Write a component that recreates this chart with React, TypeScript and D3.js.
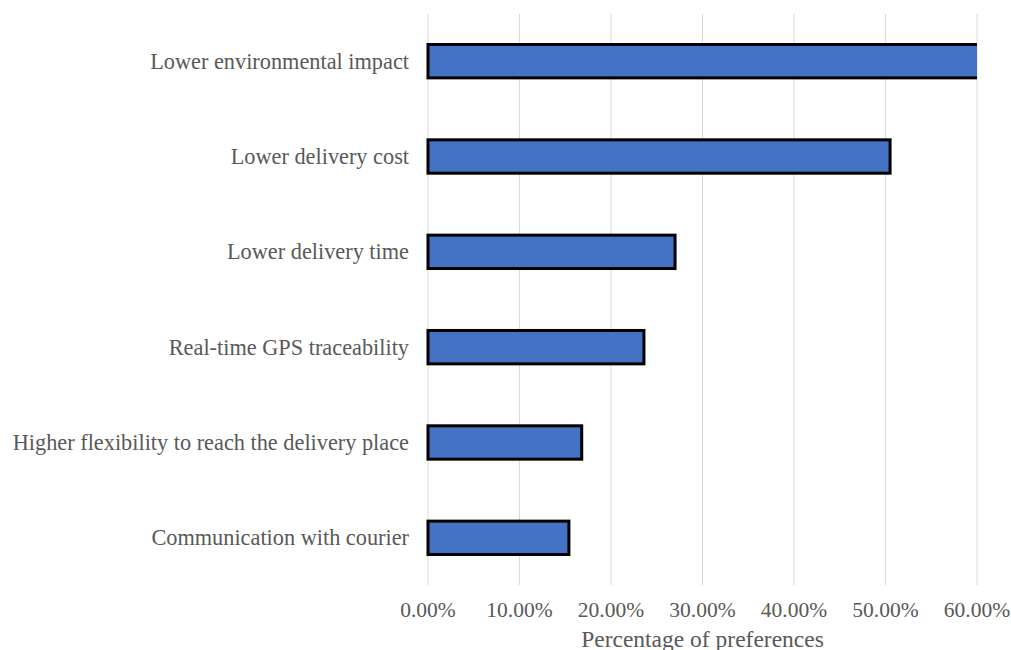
import * as d3 from "d3";

const categories = [
  "Lower environmental impact",
  "Lower delivery cost",
  "Lower delivery time",
  "Real-time GPS traceability",
  "Higher flexibility to reach the delivery place",
  "Communication with courier",
];
// first bar runs past the 60% axis end and is clipped there
const values = [0.62, 0.505, 0.27, 0.236, 0.168, 0.154];
const ticks = [0, 0.1, 0.2, 0.3, 0.4, 0.5, 0.6];

const FONT = "Liberation Serif";

export default function App() {
  const width = 1011;
  const height = 650;
  const margin = { top: 14, right: 34, bottom: 65, left: 428 };

  const x = d3
    .scaleLinear()
    .domain([0, 0.6])
    .range([margin.left, width - margin.right]);

  const y = d3
    .scaleBand()
    .domain(categories)
    .range([margin.top, height - margin.bottom])
    .paddingInner(0.65)
    .paddingOuter(0.32);

  const fmt = (v: number) => (v * 100).toFixed(2) + "%";

  return (
    <svg width={width} height={height} style={{ position: "absolute", left: 0, top: 0 }}>
      <defs>
        <clipPath id="plot">
          <rect x={margin.left - 3} y={0} width={x(0.6) - margin.left + 3} height={height} />
        </clipPath>
      </defs>

      {/* grid */}
      {ticks.map((t) => (
        <line
          key={t}
          x1={x(t)}
          x2={x(t)}
          y1={margin.top}
          y2={height - margin.bottom}
          stroke="#d9d9d9"
          strokeWidth={1}
        />
      ))}

      {/* bars */}
      <g clipPath="url(#plot)">
        {categories.map((c, i) => (
          <rect
            key={c}
            x={x(0)}
            y={y(c)}
            width={x(values[i]) - x(0)}
            height={y.bandwidth()}
            fill="#4472C4"
            stroke="#000"
            strokeWidth={3}
          />
        ))}
      </g>

      {/* category labels */}
      {categories.map((c) => (
        <text
          key={c}
          x={margin.left - 19}
          y={(y(c) ?? 0) + y.bandwidth() / 2}
          textAnchor="end"
          dominantBaseline="central"
          fontFamily={FONT}
          fontSize={22.3}
          fill="#595959"
        >
          {c}
        </text>
      ))}

      {/* x tick labels */}
      {ticks.map((t) => (
        <text
          key={t}
          x={x(t)}
          y={610}
          textAnchor="middle"
          dominantBaseline="central"
          fontFamily={FONT}
          fontSize={21.5}
          fill="#595959"
        >
          {fmt(t)}
        </text>
      ))}

      <text
        x={(x(0) + x(0.6)) / 2}
        y={639}
        textAnchor="middle"
        dominantBaseline="central"
        fontFamily={FONT}
        fontSize={23.5}
        fill="#595959"
      >
        Percentage of preferences
      </text>
    </svg>
  );
}
